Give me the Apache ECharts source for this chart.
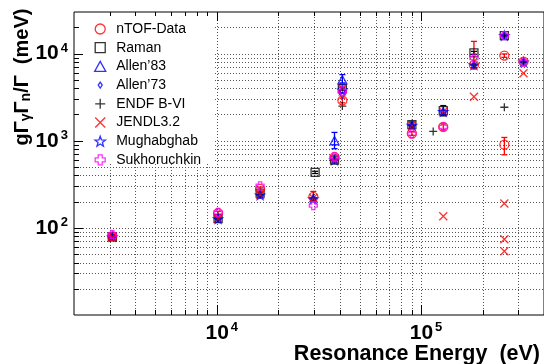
<!DOCTYPE html>
<html>
<head>
<meta charset="utf-8">
<script src="https://cdn.jsdelivr.net/npm/echarts@6/dist/echarts.min.js"></script>
<style>
  html, body { margin: 0; padding: 0; background: #fff; }
  #chart { width: 544px; height: 364px; }
</style>
</head>
<body>
<div id="chart"></div>
<script>
// resonance energy (eV) and g*Gg*Gn/G (meV) for each data set
const ntofE = [3080, 10150, 16300, 29700, 37700, 41200, 90200, 128500, 181600, 255800, 255800, 317500];
const ntofV = [80, 148, 280, 227, 650, 2900, 1210, 1440, 7400, 9480, 900, 8090];
const ntofLo = [76, 141, 266, 205, 615, 2720, 1150, 1330, 6900, 9050, 690, 7700];
const ntofHi = [84, 155, 294, 262, 685, 3080, 1270, 1560, 13800, 9900, 1090, 8480];

const ramanE = [3080, 10150, 16300, 30300, 37700, 41200, 90200, 128500, 181600, 255800];
const ramanV = [79, 128, 250, 433, 600, 3950, 1530, 2210, 10200, 16100];
const ramanLo = [77, 124, 243, 420, 585, 3800, 1440, 1930, 9800, 15600];
const ramanHi = [81, 132, 257, 446, 615, 4100, 1640, 2530, 10600, 16600];

const allen83E = [37700, 41200];
const allen83V = [1000, 5000];
const allen83Lo = [810, 4600];
const allen83Hi = [1245, 5740];

const allen73E = [3080, 10150, 16300, 29700, 37700, 41200, 90200, 128500, 181600, 255800, 317500];
const allen73V = [79, 130, 240, 215, 600, 3350, 1500, 2150, 7400, 16100, 8000];

const endfE = [3080, 10150, 16300, 29700, 37700, 41200, 90200, 114700, 181600, 255800, 255800, 317500];
const endfV = [79, 128, 240, 220, 600, 2500, 1500, 1280, 7400, 16100, 2420, 8000];

const jendlE = [3080, 10150, 16300, 29700, 37700, 41200, 90200, 128500, 128500, 181600, 255800, 255800, 255800, 317500];
const jendlV = [79, 128, 240, 220, 600, 3950, 1500, 2150, 136, 3200, 190, 74, 54, 5940];

const mughE = [3080, 10150, 16300, 29700, 37700, 41200, 90200, 128500, 181600, 255800, 317500];
const mughV = [79, 127, 238, 215, 600, 3800, 1500, 2150, 7400, 16100, 8000];

const sukhE = [3080, 10150, 16300, 29700, 37700, 41200, 90200, 128500, 181600, 255800, 317500];
const sukhV = [84, 150, 304, 180, 650, 3700, 1200, 1440, 8900, 16100, 8000];

// axis ranges and grid / tick values
const xMin = 2000, xMax = 400000;
const yMin = 10, yMax = 30000;
const xGridVals = [3000, 4000, 5000, 6000, 7000, 8000, 9000, 10000,
  20000, 30000, 40000, 50000, 60000, 70000, 80000, 90000, 100000, 200000, 300000];
const yGridVals = [20, 30, 40, 50, 60, 70, 80, 90, 100, 200, 300, 400, 500, 600, 700, 800, 900,
  1000, 2000, 3000, 4000, 5000, 6000, 7000, 8000, 9000, 10000, 20000];

const FONT = 'Liberation Sans, Arial, sans-serif';

const isDecade = (v) => Math.abs(Math.log10(v) - Math.round(Math.log10(v))) < 1e-6;

function powLabel(v) {
  if (!isDecade(v)) return '';
  const n = Math.round(Math.log10(v));
  if (n === 1) return '';
  return '{b|10}{e|' + n + '}';
}

const labelRich = {
  b: { fontFamily: FONT, fontWeight: 'bold', fontSize: 21, color: '#000', lineHeight: 24 },
  e: { fontFamily: FONT, fontWeight: 'bold', fontSize: 13, color: '#000', lineHeight: 14, verticalAlign: 'top', padding: [0, 0, 0, 2] }
};

function scatter(name, E, V, symbol, size, color) {
  return {
    type: 'scatter', name, z: 4,
    symbol, symbolSize: size, symbolKeepAspect: true,
    data: E.map((e, i) => [e, V[i]]),
    itemStyle: { color: 'transparent', borderColor: color, borderWidth: 1.3 }
  };
}

function errorBars(color, E, lo, hi) {
  return {
    type: 'custom', z: 3, silent: true,
    data: E.map((e, i) => [e, lo[i], hi[i]]),
    encode: { x: 0, y: [1, 2] },
    renderItem: (params, api) => {
      const top = api.coord([api.value(0), api.value(2)]);
      const bot = api.coord([api.value(0), api.value(1)]);
      const x = top[0];
      const style = { stroke: color, lineWidth: 1.3 };
      return {
        type: 'group', children: [
          { type: 'line', shape: { x1: x, y1: top[1], x2: x, y2: bot[1] }, style },
          { type: 'line', shape: { x1: x - 3, y1: top[1], x2: x + 3, y2: top[1] }, style },
          { type: 'line', shape: { x1: x - 3, y1: bot[1], x2: x + 3, y2: bot[1] }, style }
        ]
      };
    }
  };
}

const gridStyle = { stroke: '#555', lineWidth: 1, lineDash: [1, 2] };
const tickStyle = { stroke: '#000', lineWidth: 1 };

const chart = echarts.init(document.getElementById('chart'));
chart.setOption({
  animation: false,
  textStyle: { fontFamily: FONT },
  grid: { left: 74, right: 0, top: 12, bottom: 49, show: true, borderColor: '#000', borderWidth: 1 },
  xAxis: {
    type: 'log', logBase: 10, min: xMin, max: xMax,
    axisLine: { show: false }, axisTick: { show: false }, splitLine: { show: false },
    axisLabel: { formatter: powLabel, rich: labelRich, margin: 6, padding: [0, 0, 0, 10], showMinLabel: false, showMaxLabel: false }
  },
  yAxis: {
    type: 'log', logBase: 10, min: yMin, max: yMax,
    axisLine: { show: false }, axisTick: { show: false }, splitLine: { show: false },
    axisLabel: { formatter: powLabel, rich: labelRich, margin: 6, showMinLabel: false, showMaxLabel: false }
  },
  legend: {
    orient: 'vertical', left: 89, top: 16, z: 10,
    itemWidth: 22, itemHeight: 10, itemGap: 2.7,
    selectedMode: false,
    itemStyle: { borderWidth: 1.3 },
    textStyle: { fontFamily: FONT, fontSize: 14, color: '#000', lineHeight: 16 },
    data: ['nTOF-Data', 'Raman', 'Allen\u201983', 'Allen\u201973', 'ENDF B-VI', 'JENDL3.2', 'Mughabghab', 'Sukhoruchkin']
  },
  graphic: [
    { type: 'rect', z: 3, silent: true, shape: { x: 75, y: 15, width: 140, height: 148 }, style: { fill: '#fff' } },
    {
      type: 'text', x: 22, y: 77, rotation: Math.PI / 2, silent: true,
      style: {
        text: '{a|g\u0393}{s|\u03b3}{a|\u0393}{s|n}{a|/\u0393  (meV)}',
        align: 'center', verticalAlign: 'middle',
        rich: {
          a: { fontFamily: FONT, fontWeight: 'bold', fontSize: 20, lineHeight: 22, fill: '#000' },
          s: { fontFamily: FONT, fontWeight: 'bold', fontSize: 14, lineHeight: 10, verticalAlign: 'bottom', fill: '#000' }
        }
      }
    },
    {
      type: 'text', x: 540, y: 354, silent: true,
      style: { text: 'Resonance Energy  (eV)', align: 'right', verticalAlign: 'middle', fontFamily: FONT, fontWeight: 'bold', fontSize: 21.5, fill: '#000' }
    }
  ],
  series: [
    // dotted grid at every major and minor tick
    {
      type: 'custom', z: 1, silent: true,
      data: yGridVals.map(v => [xMin, v]),
      renderItem: (params, api) => {
        const a = api.coord([xMin, api.value(1)]);
        const b = api.coord([xMax, api.value(1)]);
        const y = Math.round(a[1]) + 0.5;
        return { type: 'line', shape: { x1: a[0], y1: y, x2: b[0], y2: y }, style: gridStyle };
      }
    },
    {
      type: 'custom', z: 1, silent: true,
      data: xGridVals.map(v => [v, yMin]),
      renderItem: (params, api) => {
        const a = api.coord([api.value(0), yMin]);
        const b = api.coord([api.value(0), yMax]);
        const x = Math.round(a[0]) + 0.5;
        return { type: 'line', shape: { x1: x, y1: a[1], x2: x, y2: b[1] }, style: gridStyle };
      }
    },
    // inward tick marks
    {
      type: 'custom', z: 6, silent: true,
      data: yGridVals.map(v => [xMin, v]),
      renderItem: (params, api) => {
        const v = api.value(1);
        const a = api.coord([xMin, v]);
        const y = Math.round(a[1]) + 0.5;
        const len = isDecade(v) ? 9 : 5;
        return { type: 'line', shape: { x1: a[0], y1: y, x2: a[0] + len, y2: y }, style: tickStyle };
      }
    },
    {
      type: 'custom', z: 6, silent: true,
      data: xGridVals.map(v => [v, yMin]),
      renderItem: (params, api) => {
        const v = api.value(0);
        const a = api.coord([v, yMin]);
        const b = api.coord([v, yMax]);
        const x = Math.round(a[0]) + 0.5;
        const len = isDecade(v) ? 10 : 5;
        return {
          type: 'group', children: [
            { type: 'line', shape: { x1: x, y1: a[1], x2: x, y2: a[1] - len }, style: tickStyle },
            { type: 'line', shape: { x1: x, y1: b[1], x2: x, y2: b[1] + len - 1 }, style: tickStyle }
          ]
        };
      }
    },
    errorBars('#ff0000', ntofE, ntofLo, ntofHi),
    errorBars('#000000', ramanE, ramanLo, ramanHi),
    errorBars('#0000ff', allen83E, allen83Lo, allen83Hi),
    scatter('Raman', ramanE, ramanV, 'path://M0,0L10,0L10,10L0,10Z', 8, '#000000'),
    scatter('Allen\u201983', allen83E, allen83V, 'path://M5,0L10,9L0,9Z', 9, '#0000ff'),
    scatter('Allen\u201973', allen73E, allen73V, 'path://M0,0M10,10M5,2L7,5L5,8L3,5Z', 10, '#0000ff'),
    scatter('ENDF B-VI', endfE, endfV, 'path://M5,0L5,10M0,5L10,5', 8, '#000000'),
    scatter('JENDL3.2', jendlE, jendlV, 'path://M0,0L10,10M10,0L0,10', 8, '#ff0000'),
    scatter('Mughabghab', mughE, mughV, 'path://M5,0L6.2,3.4L9.8,3.5L7,5.7L8,9.2L5,7.2L2,9.2L3,5.7L0.2,3.5L3.8,3.4Z', 9, '#0000ff'),
    scatter('nTOF-Data', ntofE, ntofV, 'circle', 9, '#ff0000'),
    scatter('Sukhoruchkin', sukhE, sukhV, 'path://M3,0L7,0L7,3L10,3L10,7L7,7L7,10L3,10L3,7L0,7L0,3L3,3Z', 8, '#ff00ff')
  ]
});
</script>
</body>
</html>
